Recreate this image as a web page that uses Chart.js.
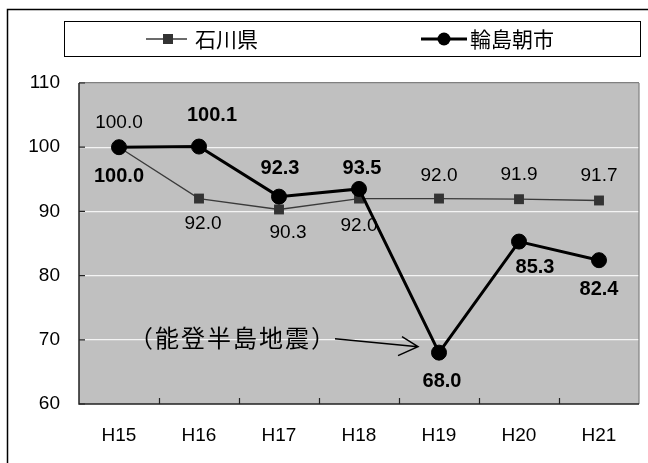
<!DOCTYPE html>
<html>
<head>
<meta charset="utf-8">
<script src="https://cdn.jsdelivr.net/npm/chart.js@4.4.0/dist/chart.umd.min.js"></script>
<style>
  html, body { margin: 0; padding: 0; background: #fff; }
  canvas { display: block; }
</style>
</head>
<body>
<canvas id="c" width="648" height="463"></canvas>
<script>
// Fiscal years (Heisei era)
const years = ['H15', 'H16', 'H17', 'H18', 'H19', 'H20', 'H21'];
// Index values (H15 = 100)
const ishikawa = [100.0, 92.0, 90.3, 92.0, 92.0, 91.9, 91.7];
const wajima = [100.0, 100.1, 92.3, 93.5, 68.0, 85.3, 82.4];
const seriesNames = ['石川県', '輪島朝市'];
const yTicks = [60, 70, 80, 90, 100, 110];
// Callout for the 2007 earthquake year
const noteText = '（能登半島地震）';
const noteIndex = 4;

// Value label placement relative to each marker, in pixels [dx, dy]
const ishikawaLabelOffset = [[0, -24], [4, 25], [9, 23], [0, 27], [0, -23], [0, -24], [0, -25]];
const wajimaLabelOffset = [[0, 29], [13, -31], [1, -28], [3, -20], [3, 29], [16, 26], [0, 29]];

const NUM_FONT = '"Liberation Sans", Arial, sans-serif';
const JP_FONT = '"Noto Sans CJK JP", "Noto Sans CJK SC", sans-serif';

const framePlugin = {
  id: 'frame',
  beforeDraw(chart) {
    const { ctx, chartArea: a } = chart;
    ctx.save();
    ctx.fillStyle = '#ffffff';
    ctx.fillRect(0, 0, chart.width, chart.height);
    // plot background
    ctx.fillStyle = '#C0C0C0';
    ctx.fillRect(a.left, a.top, a.right - a.left, a.bottom - a.top);
    // outer frame (runs off the right and bottom edges)
    ctx.strokeStyle = '#000';
    ctx.lineWidth = 1.5;
    ctx.strokeRect(7.5, 9.5, 800, 600);
    // legend box
    ctx.lineWidth = 1;
    ctx.strokeRect(64.5, 21.5, 576, 35);
    const ds = chart.data.datasets;
    const ly = 39;
    // series 1 key
    ctx.strokeStyle = ds[0].borderColor;
    ctx.lineWidth = 1.5;
    ctx.beginPath(); ctx.moveTo(146, ly); ctx.lineTo(187, ly); ctx.stroke();
    ctx.fillStyle = ds[0].pointBackgroundColor;
    ctx.fillRect(163, ly - 5, 10, 10);
    // series 2 key
    ctx.strokeStyle = ds[1].borderColor;
    ctx.lineWidth = 3;
    ctx.beginPath(); ctx.moveTo(421, ly); ctx.lineTo(467, ly); ctx.stroke();
    ctx.fillStyle = ds[1].pointBackgroundColor;
    ctx.beginPath(); ctx.arc(444, ly, 6.5, 0, Math.PI * 2); ctx.fill();
    ctx.fillStyle = '#000';
    ctx.font = '21px ' + JP_FONT;
    ctx.textAlign = 'left';
    ctx.textBaseline = 'middle';
    ctx.fillText(ds[0].label, 195, ly);
    ctx.fillText(ds[1].label, 470, ly);
    ctx.restore();
  },
  beforeDatasetsDraw(chart) {
    const { ctx, chartArea: a, scales } = chart;
    ctx.save();
    // right edge of plot
    ctx.strokeStyle = '#808080';
    ctx.lineWidth = 1.2;
    ctx.beginPath(); ctx.moveTo(a.right, a.top); ctx.lineTo(a.right, a.bottom); ctx.stroke();
    // axes
    ctx.strokeStyle = '#222';
    ctx.lineWidth = 1.5;
    ctx.beginPath();
    ctx.moveTo(a.left, a.top); ctx.lineTo(a.left, a.bottom); ctx.lineTo(a.right, a.bottom);
    ctx.stroke();
    // inward tick marks
    ctx.lineWidth = 1.2;
    ctx.beginPath();
    yTicks.forEach(v => {
      const y = scales.y.getPixelForValue(v);
      ctx.moveTo(a.left, y); ctx.lineTo(a.left + 6, y);
    });
    const w = (a.right - a.left) / years.length;
    for (let i = 1; i < years.length; i++) {
      const x = Math.round(a.left + i * w) + 0.5;
      ctx.moveTo(x, a.bottom); ctx.lineTo(x, a.bottom - 6);
    }
    ctx.stroke();
    // value labels
    ctx.textAlign = 'center';
    ctx.textBaseline = 'middle';
    const offs = [ishikawaLabelOffset, wajimaLabelOffset];
    chart.data.datasets.forEach((ds, di) => {
      const meta = chart.getDatasetMeta(di);
      ctx.fillStyle = '#000';
      ctx.font = di === 1 ? 'bold 20px ' + NUM_FONT : '19px ' + NUM_FONT;
      meta.data.forEach((pt, i) => {
        const [dx, dy] = offs[di][i];
        ctx.fillText(ds.data[i].toFixed(1), pt.x + dx, pt.y + dy);
      });
    });
    ctx.restore();
  },
  afterDatasetsDraw(chart) {
    const { ctx } = chart;
    const pt = chart.getDatasetMeta(1).data[noteIndex];
    const tipX = pt.x - 21, tipY = pt.y - 6;
    const tailX = tipX - 83, tailY = tipY - 8;
    ctx.save();
    ctx.strokeStyle = '#000';
    ctx.lineWidth = 1.5;
    ctx.beginPath();
    ctx.moveTo(tailX, tailY); ctx.lineTo(tipX, tipY);
    ctx.moveTo(tipX - 16, tipY - 10); ctx.lineTo(tipX, tipY); ctx.lineTo(tipX - 20, tipY + 9);
    ctx.stroke();
    ctx.fillStyle = '#000';
    ctx.font = '24px ' + JP_FONT;
    ctx.letterSpacing = '2px';
    ctx.textAlign = 'right';
    ctx.textBaseline = 'middle';
    ctx.fillText(noteText, tailX + 2, tailY - 1);
    ctx.restore();
  }
};

new Chart(document.getElementById('c'), {
  type: 'line',
  data: {
    labels: years,
    datasets: [
      {
        label: seriesNames[0], data: ishikawa,
        borderColor: '#3a3a3a', borderWidth: 1.3,
        pointStyle: 'rect', pointRadius: 7, pointBorderWidth: 0,
        pointBackgroundColor: '#333333', pointBorderColor: '#333333',
        order: 2
      },
      {
        label: seriesNames[1], data: wajima,
        borderColor: '#000000', borderWidth: 3,
        pointStyle: 'circle', pointRadius: 7.5, pointBorderWidth: 1,
        pointBackgroundColor: '#000000', pointBorderColor: '#000000',
        order: 1
      }
    ]
  },
  options: {
    responsive: false,
    animation: false,
    layout: { padding: { left: 0, right: 9, top: 83, bottom: 0 } },
    plugins: { legend: { display: false }, tooltip: { enabled: false } },
    scales: {
      x: {
        offset: true,
        grid: { display: false },
        border: { display: false },
        ticks: { color: '#000', font: { family: NUM_FONT, size: 19 }, padding: 12, maxRotation: 0 },
        afterFit(s) { s.height = 59; }
      },
      y: {
        min: 60, max: 110,
        afterBuildTicks(s) { s.ticks = yTicks.map(v => ({ value: v })); },
        grid: {
          drawTicks: false,
          lineWidth: 1.2,
          color: c => c.tick.value === 60 ? 'rgba(0,0,0,0)' : (c.tick.value === 110 ? '#808080' : '#F4F4F4')
        },
        border: { display: false },
        ticks: { color: '#000', font: { family: NUM_FONT, size: 19 }, padding: 19 },
        afterFit(s) { s.width = 79; }
      }
    }
  },
  plugins: [framePlugin]
});
</script>
</body>
</html>
